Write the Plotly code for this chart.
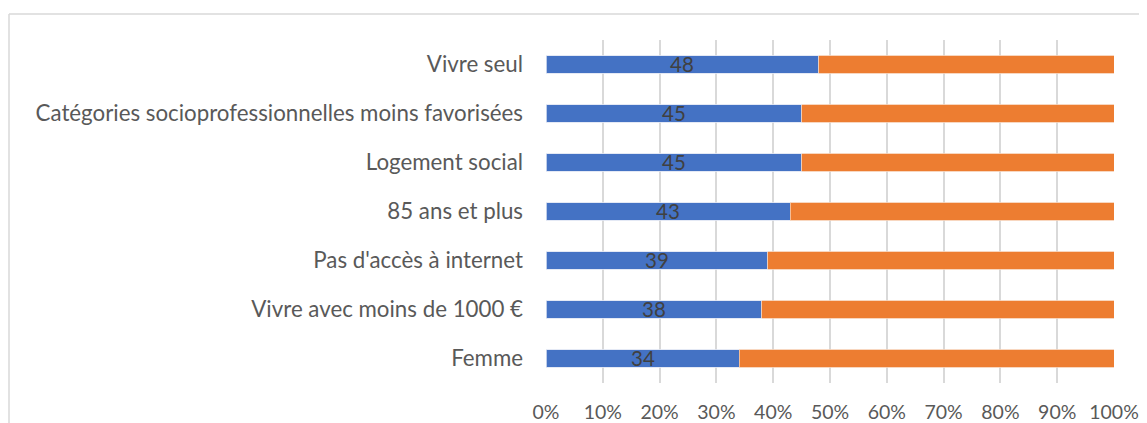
import plotly.graph_objects as go

categories = [
    "Femme",
    "Vivre avec moins de 1000 €",
    "Pas d'accès à internet",
    "85 ans et plus",
    "Logement social",
    "Catégories socioprofessionnelles moins favorisées",
    "Vivre seul",
]
part_oui = [34, 38, 39, 43, 45, 45, 48]
part_non = [66, 62, 61, 57, 55, 55, 52]
tick_vals = [0, 10, 20, 30, 40, 50, 60, 70, 80, 90, 100]
tick_text = [f"{v}%" for v in tick_vals]

BLUE = "#4472C4"
ORANGE = "#ED7D31"
GRID = "#D9D9D9"
TEXT = "#595959"

# la page html ajoute 8 px de marge au body : on compense
OFF = 8
W, H = 1147 - OFF, 423 - OFF
ML, MT = 546 - OFF, 40 - OFF
MR = W - (1114 - OFF)
MB = H - (383 - OFF)

fig = go.Figure()
fig.add_trace(go.Bar(
    y=categories, x=part_oui, orientation="h",
    marker=dict(color=BLUE, line=dict(color="#DDE4F2", width=0.8)),
    hoverinfo="skip",
))
fig.add_trace(go.Bar(
    y=categories, x=part_non, orientation="h",
    marker=dict(color=ORANGE, line=dict(color="#F6CDB0", width=0.8)),
    hoverinfo="skip",
))

# étiquettes de données au milieu de la barre bleue
for cat, v in zip(categories, part_oui):
    fig.add_annotation(x=v / 2, y=cat, text=str(v), showarrow=False,
                       yshift=1, font=dict(color="#404040", size=20.5, family="Lato"))

# cadre gris autour du graphique (coupé par le bord de l'image)
pw, ph = W - ML - MR, H - MT - MB
x_left = (9 - OFF - ML) / pw
y_top = 1 + (MT - (14 - OFF)) / ph
fig.add_shape(type="line", xref="paper", yref="paper",
              x0=x_left, x1=2, y0=y_top, y1=y_top,
              line=dict(color=GRID, width=1.5))
fig.add_shape(type="line", xref="paper", yref="paper",
              x0=x_left, x1=x_left, y0=y_top, y1=-1,
              line=dict(color=GRID, width=1.5))

fig.update_layout(
    width=W, height=H,
    barmode="stack", bargap=0.64,
    showlegend=False,
    plot_bgcolor="white", paper_bgcolor="white",
    margin=dict(l=ML, r=MR, t=MT, b=MB),
    font=dict(family="Lato", color=TEXT, size=18),
)
fig.update_xaxes(
    range=[0, 100], tickvals=tick_vals, ticktext=tick_text,
    showgrid=True, gridcolor=GRID, gridwidth=1.5,
    zeroline=False, showline=False, ticks="", automargin=False,
    tickfont=dict(size=19.5, color=TEXT), ticklabelstandoff=15,
)
fig.update_yaxes(
    showgrid=False, zeroline=False, showline=False, ticks="", automargin=False,
    tickfont=dict(size=22.3, color=TEXT), ticklabelstandoff=22,
)

fig.write_html("out.html")
